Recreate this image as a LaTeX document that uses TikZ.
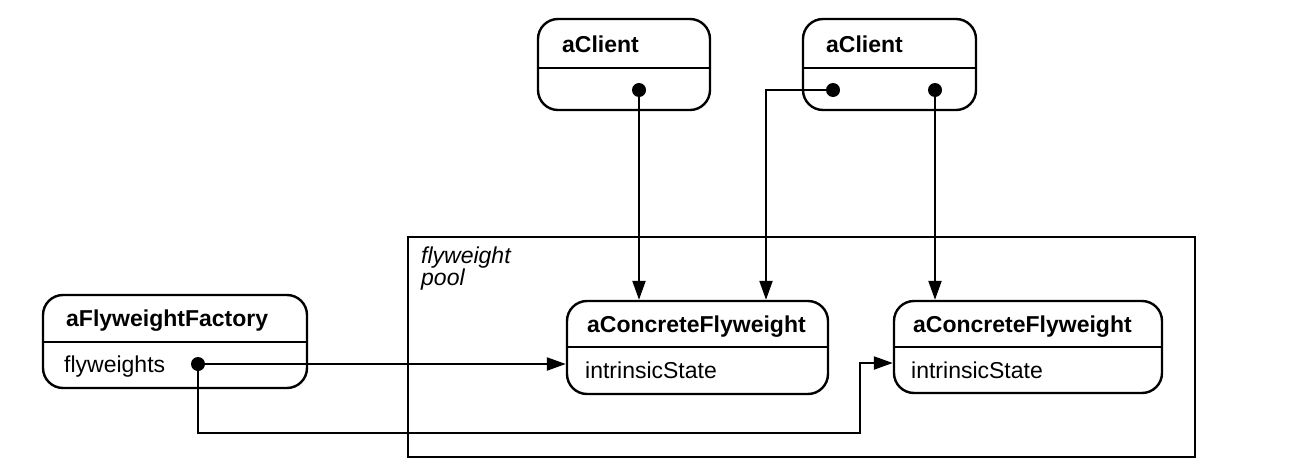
\documentclass[tikz,border=0pt]{standalone}
\usepackage{fontspec}
\setmainfont{Liberation Sans}
\usetikzlibrary{arrows.meta}
\begin{document}
\begin{tikzpicture}[x=1pt,y=-1pt,
  objbox/.style={draw, rounded corners=20pt, line width=2.4pt, inner sep=0pt},
  divider/.style={line width=2pt},
  title/.style={anchor=base west, inner sep=0pt, font=\fontsize{23}{27}\selectfont\bfseries},
  attr/.style={anchor=base west, inner sep=0pt, font=\fontsize{23}{27}\selectfont},
  pooltext/.style={anchor=base west, inner sep=0pt, align=left, font=\fontsize{23}{22}\selectfont\itshape},
  dot/.style={circle, fill=black, inner sep=0pt, minimum size=14pt},
  arr/.style={line width=2.2pt, -{Triangle[length=19pt,width=13pt]}},
  poolbox/.style={draw, line width=2.4pt, inner sep=0pt}
]
\useasboundingbox (0,0) rectangle (1302,474);

% flyweight pool
\node[poolbox, minimum width=787pt, minimum height=220pt] (pool) at (801.5,347) {};
\node[pooltext] (poollbl) at (421,285) {flyweight\\pool};

% clients
\node[objbox, minimum width=172pt, minimum height=91pt] (cl1) at (624,64.5) {};
\draw[divider] (cl1.west |- 0,68) -- (cl1.east |- 0,68);
\node[title] (cl1t) at (562,52) {aClient};
\node[dot] (d1) at (639,90) {};

\node[objbox, minimum width=173pt, minimum height=91pt] (cl2) at (889.5,64.5) {};
\draw[divider] (cl2.west |- 0,68) -- (cl2.east |- 0,68);
\node[title] (cl2t) at (826,52) {aClient};
\node[dot] (d2a) at (833,90) {};
\node[dot] (d2b) at (935,90) {};

% factory
\node[objbox, minimum width=264pt, minimum height=93pt] (fac) at (175,341.5) {};
\draw[divider] (fac.west |- 0,342) -- (fac.east |- 0,342);
\node[title] (fact) at (66,326) {aFlyweightFactory};
\node[attr] (faca) at (64,372) {flyweights};
\node[dot] (d3) at (198,364) {};

% concrete flyweights
\node[objbox, minimum width=261pt, minimum height=93pt] (cf1) at (697.5,347.5) {};
\draw[divider] (cf1.west |- 0,347) -- (cf1.east |- 0,347);
\node[title] (cf1t) at (587,332) {aConcreteFlyweight};
\node[attr] (cf1a) at (585,378) {intrinsicState};

\node[objbox, minimum width=268pt, minimum height=92pt] (cf2) at (1028,347) {};
\draw[divider] (cf2.west |- 0,347) -- (cf2.east |- 0,347);
\node[title] (cf2t) at (913,332) {aConcreteFlyweight};
\node[attr] (cf2a) at (911,378) {intrinsicState};

% connectors
\coordinate (k1) at (766,90);
\coordinate (k2) at (198,433);
\coordinate (k3) at (860,433);
\coordinate (k4) at (860,363);

\draw[arr] (d1.center) -- (d1.center |- cf1.north);
\draw[arr] (d2a.center) -- (k1) -- (k1 |- cf1.north);
\draw[arr] (d2b.center) -- (d2b.center |- cf2.north);
\draw[arr] (d3.center) -- (d3.center -| cf1.west);
\draw[arr] (d3.center) -- (k2) -- (k3) -- (k4) -- (k4 -| cf2.west);
\end{tikzpicture}
\end{document}
